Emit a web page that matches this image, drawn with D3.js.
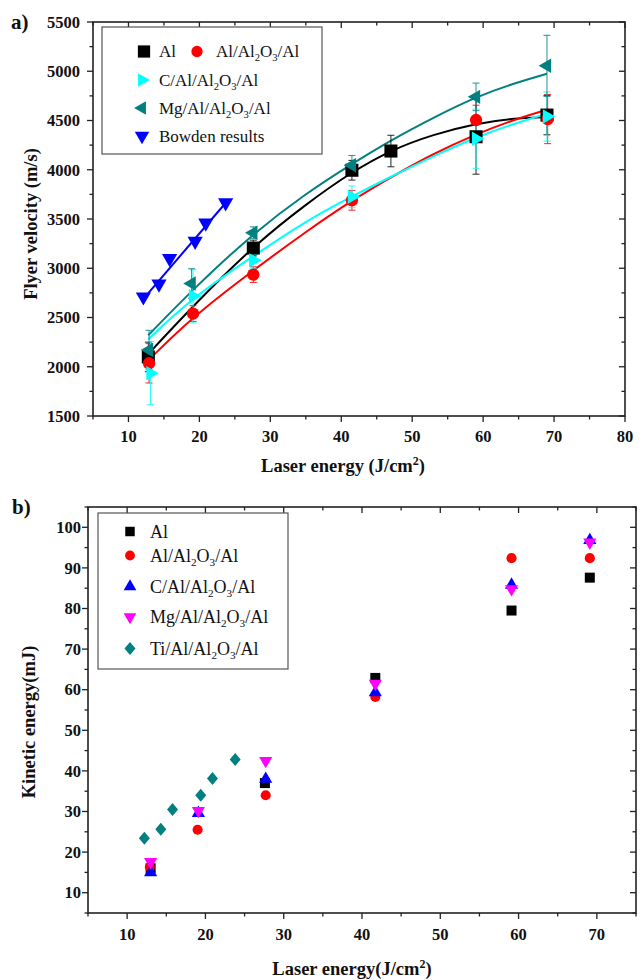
<!DOCTYPE html>
<html>
<head>
<meta charset="utf-8">
<script src="https://cdn.jsdelivr.net/npm/d3@7"></script>
<style>
  html, body { margin: 0; padding: 0; background: #fff; }
  svg { display: block; }
  text { font-family: "Liberation Serif", "Times New Roman", serif; }
</style>
</head>
<body>
<svg id="chart" width="642" height="980"></svg>
<script>
// ---------- Panel a) data : flyer velocity (m/s) ----------
const alX      = [12.8, 27.6, 41.5, 47.0, 59.0, 69.0];
const alV      = [2100, 3205, 3995, 4190, 4335, 4555];
const alErr    = [150, 80, 100, 160, 380, 200];

const al2X     = [12.9, 19.1, 27.6, 41.5, 59.0, 69.1];
const al2V     = [2035, 2540, 2935, 3690, 4505, 4515];
const al2Err   = [200, 80, 80, 100, 150, 250];

const cX       = [13.1, 19.1, 27.6, 41.5, 59.0, 69.0];
const cV       = [1935, 2715, 3080, 3725, 4315, 4540];
const cErr     = [320, 270, 80, 110, 300, 250];

const mgX      = [12.9, 18.9, 27.6, 41.5, 59.0, 69.0];
const mgV      = [2170, 2845, 3360, 4045, 4740, 5055];
const mgErr    = [200, 150, 60, 100, 140, 310];

const bowX     = [12.1, 14.3, 15.8, 19.4, 20.9, 23.7];
const bowV     = [2710, 2840, 3100, 3275, 3460, 3665];

// fitted curves
const fitX     = [12.8, 19, 27.5, 35, 41.5, 47, 53, 59, 64, 69];
const alFit    = [2130, 2610, 3220, 3650, 3980, 4200, 4360, 4470, 4520, 4535];
const al2Fit   = [2065, 2505, 2975, 3370, 3690, 3925, 4165, 4360, 4500, 4610];
const cFit     = [2280, 2700, 3120, 3480, 3730, 3930, 4140, 4330, 4460, 4570];
const mgFit    = [2320, 2780, 3350, 3760, 4060, 4300, 4530, 4740, 4870, 4975];
const bowFitX  = [12.1, 23.9];
const bowFitV  = [2690, 3680];

const velXTicks = [10, 20, 30, 40, 50, 60, 70, 80];
const velYTicks = [1500, 2000, 2500, 3000, 3500, 4000, 4500, 5000, 5500];

// ---------- Panel b) data : kinetic energy (mJ) ----------
const keAlX    = [13.0, 27.6, 41.7, 59.1, 69.1];
const keAlV    = [16.0, 37.0, 62.9, 79.5, 87.6];
const keAl2X   = [12.9, 19.0, 27.7, 41.7, 59.1, 69.1];
const keAl2V   = [16.3, 25.5, 34.0, 58.2, 92.4, 92.4];
const keCX     = [13.0, 19.1, 27.7, 41.7, 59.1, 69.1];
const keCV     = [15.0, 29.6, 38.0, 59.3, 85.8, 96.8];
const keMgX    = [13.0, 19.1, 27.7, 41.7, 59.1, 69.1];
const keMgV    = [17.6, 30.2, 42.5, 61.5, 84.8, 96.3];
const keTiX    = [12.2, 14.3, 15.8, 19.4, 20.9, 23.8];
const keTiV    = [23.4, 25.6, 30.5, 34.0, 38.1, 42.8];

const keXTicks = [10, 20, 30, 40, 50, 60, 70];
const keYTicks = [10, 20, 30, 40, 50, 60, 70, 80, 90, 100];

// ---------- colours ----------
const C_BLACK = "#000000", C_RED = "#ff0000", C_CYAN = "#00ffff",
      C_TEAL = "#008080", C_BLUE = "#0000ff", C_MAG = "#ff00ff";

const svg = d3.select("#chart");

// symbol helpers
const tri = (size) => d3.symbol(d3.symbolTriangle, size)();
const sq = (size) => d3.symbol(d3.symbolSquare, size)();
const circ = (size) => d3.symbol(d3.symbolCircle, size)();
function diamond(hw, hh) { return `M0,${-hh}L${hw},0L0,${hh}L${-hw},0Z`; }

function drawFrame(g, x, y, xMajor, xMinorStep, yMajor, yMinorStep, fontSize, yLabelGap, xLabelDy) {
  const [x0, x1] = x.range(), [y0, y1] = y.range(); // y0 bottom, y1 top
  const xd = x.domain(), yd = y.domain();
  const xMinor = d3.range(Math.ceil(xd[0] / xMinorStep) * xMinorStep, xd[1] + 1e-9, xMinorStep);
  const yMinor = d3.range(Math.ceil(yd[0] / yMinorStep) * yMinorStep, yd[1] + 1e-9, yMinorStep);
  const isMajor = (v, arr) => arr.some(a => Math.abs(a - v) < 1e-6);
  const tk = g.append("g").attr("stroke", "#222").attr("stroke-width", 1.3);
  xMinor.forEach(v => {
    const L = isMajor(v, xMajor) ? 6 : 3.5;
    tk.append("line").attr("x1", x(v)).attr("x2", x(v)).attr("y1", y0).attr("y2", y0 + L);
    tk.append("line").attr("x1", x(v)).attr("x2", x(v)).attr("y1", y1).attr("y2", y1 + L);
  });
  yMinor.forEach(v => {
    const L = isMajor(v, yMajor) ? 6 : 3.5;
    tk.append("line").attr("y1", y(v)).attr("y2", y(v)).attr("x1", x0).attr("x2", x0 - L);
    tk.append("line").attr("y1", y(v)).attr("y2", y(v)).attr("x1", x1).attr("x2", x1 - L);
  });
  g.append("rect").attr("x", x0).attr("y", y1).attr("width", x1 - x0).attr("height", y0 - y1)
    .attr("fill", "none").attr("stroke", "#222").attr("stroke-width", 1.6);
  g.append("g").selectAll("text").data(xMajor).join("text")
    .attr("x", d => x(d)).attr("y", y0 + xLabelDy).attr("text-anchor", "middle")
    .attr("font-size", fontSize).attr("font-weight", "bold").attr("fill", "#111").text(d => d);
  g.append("g").selectAll("text").data(yMajor).join("text")
    .attr("x", x0 - yLabelGap).attr("y", d => y(d)).attr("dy", "0.35em").attr("text-anchor", "end")
    .attr("font-size", fontSize).attr("font-weight", "bold").attr("fill", "#111").text(d => d);
}

function formula(t, pre, fs) {
  t.append("tspan").text(pre + "Al");
  t.append("tspan").text("2").attr("font-size", fs * 0.62).attr("dy", 4);
  t.append("tspan").text("O").attr("dy", -4);
  t.append("tspan").text("3").attr("font-size", fs * 0.62).attr("dy", 4);
  t.append("tspan").text("/Al").attr("dy", -4);
}

// ================= Panel a =================
{
  const x = d3.scaleLinear().domain([5, 80]).range([93, 625]);
  const y = d3.scaleLinear().domain([1500, 5500]).range([416, 22]);
  const g = svg.append("g");

  const line = d3.line().x(d => x(d[0])).y(d => y(d[1])).curve(d3.curveBasis);
  [[alFit, C_BLACK], [al2Fit, C_RED], [cFit, C_CYAN], [mgFit, C_TEAL]].forEach(([vals, col]) => {
    g.append("path").datum(fitX.map((xx, i) => [xx, vals[i]]))
      .attr("d", line).attr("fill", "none").attr("stroke", col).attr("stroke-width", 2);
  });
  g.append("path").datum(bowFitX.map((xx, i) => [xx, bowFitV[i]]))
    .attr("d", d3.line().x(d => x(d[0])).y(d => y(d[1])))
    .attr("fill", "none").attr("stroke", C_BLUE).attr("stroke-width", 2);

  const series = [
    { xs: alX,  vs: alV,  es: alErr,  col: C_BLACK, sym: sq(170),  rot: 0 },
    { xs: al2X, vs: al2V, es: al2Err, col: C_RED,   sym: circ(120), rot: 0 },
    { xs: cX,   vs: cV,   es: cErr,   col: C_CYAN,  sym: tri(90),  rot: 90 },
    { xs: mgX,  vs: mgV,  es: mgErr,  col: C_TEAL,  sym: tri(90),  rot: -90 },
  ];
  series.forEach(s => {
    const eg = g.append("g").attr("stroke", s.col).attr("stroke-width", 1).attr("opacity", 0.85);
    s.xs.forEach((xx, i) => {
      const px = x(xx), top = y(s.vs[i] + s.es[i]), bot = y(s.vs[i] - s.es[i]);
      eg.append("line").attr("x1", px).attr("x2", px).attr("y1", top).attr("y2", bot);
      eg.append("line").attr("x1", px - 3.5).attr("x2", px + 3.5).attr("y1", top).attr("y2", top);
      eg.append("line").attr("x1", px - 3.5).attr("x2", px + 3.5).attr("y1", bot).attr("y2", bot);
    });
  });
  series.forEach(s => {
    g.append("g").selectAll("path").data(s.xs.map((xx, i) => [xx, s.vs[i]])).join("path")
      .attr("d", s.sym).attr("fill", s.col)
      .attr("transform", d => `translate(${x(d[0])},${y(d[1])}) rotate(${s.rot})`);
  });
  g.append("g").selectAll("path").data(bowX.map((xx, i) => [xx, bowV[i]])).join("path")
    .attr("d", tri(100)).attr("fill", C_BLUE)
    .attr("transform", d => `translate(${x(d[0])},${y(d[1])}) rotate(180)`);

  drawFrame(g, x, y, velXTicks, 5, velYTicks, 250, 16.5, 13, 26);

  const lg = g.append("g");
  lg.append("rect").attr("x", 102).attr("y", 27).attr("width", 220).attr("height", 127)
    .attr("fill", "#fff").attr("stroke", "#555").attr("stroke-width", 1.2);
  const fs = 17;
  const items = [
    { mx: 144, my: 51.5, sym: sq(150), rot: 0, col: C_BLACK, tx: 159, pre: null, label: "Al" },
    { mx: 197, my: 51.5, sym: circ(100), rot: 0, col: C_RED, tx: 216, pre: "Al/" },
    { mx: 142, my: 80, sym: tri(80), rot: 90, col: C_CYAN, tx: 159, pre: "C/Al/" },
    { mx: 142, my: 108, sym: tri(80), rot: -90, col: C_TEAL, tx: 159, pre: "Mg/Al/" },
    { mx: 142, my: 136, sym: tri(90), rot: 180, col: C_BLUE, tx: 159, pre: null, label: "Bowden results" },
  ];
  items.forEach(it => {
    lg.append("path").attr("d", it.sym).attr("fill", it.col)
      .attr("transform", `translate(${it.mx},${it.my}) rotate(${it.rot})`);
    const t = lg.append("text").attr("x", it.tx).attr("y", it.my + 5.5).attr("font-size", fs).attr("fill", "#111");
    if (it.pre === null) t.text(it.label); else formula(t, it.pre, fs);
  });

  const xt = g.append("text").attr("x", 343).attr("y", 472).attr("text-anchor", "middle")
    .attr("font-size", 18.5).attr("font-weight", "bold").attr("fill", "#111");
  xt.append("tspan").text("Laser energy (J/cm");
  xt.append("tspan").text("2").attr("font-size", 12).attr("dy", -7);
  xt.append("tspan").text(")").attr("dy", 7);
  g.append("text").attr("transform", "translate(37,224) rotate(-90)").attr("text-anchor", "middle")
    .attr("font-size", 18.5).attr("font-weight", "bold").attr("fill", "#111").text("Flyer velocity (m/s)");
  g.append("text").attr("x", 11).attr("y", 29).attr("font-family", "Liberation Sans, Arial, sans-serif")
    .attr("font-size", 21).attr("font-weight", "bold").attr("fill", "#111").text("a)");
}

// ================= Panel b =================
{
  const x = d3.scaleLinear().domain([5, 75]).range([88, 636]);
  const y = d3.scaleLinear().domain([5, 105]).range([913, 507]);
  const g = svg.append("g");

  drawFrame(g, x, y, keXTicks, 5, keYTicks, 5, 16.5, 7, 27);

  const series = [
    { xs: keTiX,  vs: keTiV,  col: C_TEAL,  sym: diamond(5.5, 6.5), rot: 0 },
    { xs: keAlX,  vs: keAlV,  col: C_BLACK, sym: sq(100), rot: 0 },
    { xs: keAl2X, vs: keAl2V, col: C_RED,   sym: circ(80), rot: 0 },
    { xs: keCX,   vs: keCV,   col: C_BLUE,  sym: tri(75), rot: 0 },
    { xs: keMgX,  vs: keMgV,  col: C_MAG,   sym: tri(75), rot: 180 },
  ];
  series.forEach(s => {
    g.append("g").selectAll("path").data(s.xs.map((xx, i) => [xx, s.vs[i]])).join("path")
      .attr("d", s.sym).attr("fill", s.col)
      .attr("transform", d => `translate(${x(d[0])},${y(d[1])}) rotate(${s.rot})`);
  });

  const lg = g.append("g");
  lg.append("rect").attr("x", 98).attr("y", 513).attr("width", 190).attr("height", 156)
    .attr("fill", "#fff").attr("stroke", "#555").attr("stroke-width", 1.2);
  const fs = 18;
  const items = [
    { my: 531.5, sym: sq(90), rot: 0, col: C_BLACK, pre: null, label: "Al" },
    { my: 555.5, sym: circ(75), rot: 0, col: C_RED, pre: "Al/" },
    { my: 586.5, sym: tri(70), rot: 0, col: C_BLUE, pre: "C/Al/" },
    { my: 617, sym: tri(70), rot: 180, col: C_MAG, pre: "Mg/Al/" },
    { my: 648.5, sym: diamond(5.5, 6.5), rot: 0, col: C_TEAL, pre: "Ti/Al/" },
  ];
  items.forEach(it => {
    lg.append("path").attr("d", it.sym).attr("fill", it.col)
      .attr("transform", `translate(130,${it.my}) rotate(${it.rot})`);
    const t = lg.append("text").attr("x", 150).attr("y", it.my + 6).attr("font-size", fs).attr("fill", "#111");
    if (it.pre === null) t.text(it.label); else formula(t, it.pre, fs);
  });

  const xt = g.append("text").attr("x", 352).attr("y", 975).attr("text-anchor", "middle")
    .attr("font-size", 18.5).attr("font-weight", "bold").attr("fill", "#111");
  xt.append("tspan").text("Laser energy(J/cm");
  xt.append("tspan").text("2").attr("font-size", 12).attr("dy", -7);
  xt.append("tspan").text(")").attr("dy", 7);
  g.append("text").attr("transform", "translate(35,722) rotate(-90)").attr("text-anchor", "middle")
    .attr("font-size", 18.5).attr("font-weight", "bold").attr("fill", "#111").text("Kinetic energy(mJ)");
  g.append("text").attr("x", 12).attr("y", 514).attr("font-family", "Liberation Sans, Arial, sans-serif")
    .attr("font-size", 21).attr("font-weight", "bold").attr("fill", "#111").text("b)");
}
</script>
</body>
</html>
